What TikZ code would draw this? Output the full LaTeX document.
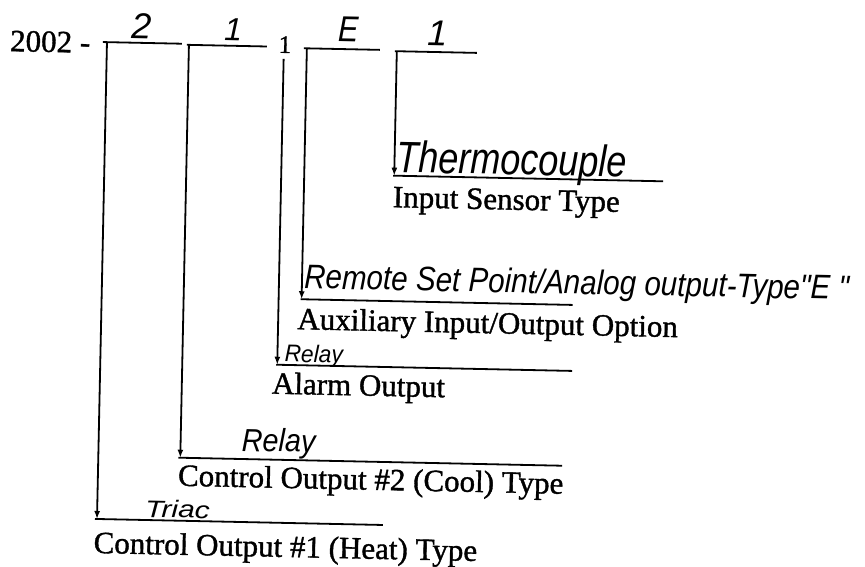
\documentclass[tikz,border=0pt]{standalone}
\usepackage{fontspec}
\setmainfont{Liberation Serif}[FakeBold=1.2]
\newfontfamily\handfont{Liberation Sans}
\usetikzlibrary{arrows.meta}
\newcommand\hw[3][0.8]{\scalebox{#1}[1]{\handfont\itshape\fontsize{#2}{#2}\selectfont #3}}
\begin{document}
\begin{tikzpicture}[x=1pt,y=-1pt,
  ln/.style={line width=1.8pt},
  arr/.style={line width=1.8pt,-{Latex[length=8pt,width=6pt]}},
  lbl/.style={anchor=base west, inner sep=0pt, font=\fontsize{31}{31}\selectfont},
  hwn/.style={anchor=base west, inner sep=0pt}]
\useasboundingbox (0,0) rectangle (865,567);
\begin{scope}[rotate around={-1.2:(432,283)}, transform shape]
  % model number
  \node[lbl] (model) at (5,60) {2002 -};
  \node[anchor=base, inner sep=0pt, font=\fontsize{25}{25}\selectfont] (p1) at (280,56) {1};
  \node[hwn, anchor=base] (h2) at (136,45) {\hw[1]{36}{2}};
  \node[hwn, anchor=base] (h1a) at (228,45) {\hw[1]{32}{1}};
  \node[hwn, anchor=base] (hE) at (343,44) {\hw[0.85]{36}{E}};
  \node[hwn, anchor=base] (h1b) at (433,46) {\hw[1]{36}{1}};
  % corner coordinates
  \coordinate (s1a) at (98,49);  \coordinate (s1b) at (177,49);
  \coordinate (s2a) at (182,50); \coordinate (s2b) at (262,50);
  \coordinate (s3a) at (299,51); \coordinate (s3b) at (375,51);
  \coordinate (s4a) at (390,52); \coordinate (s4b) at (472,52);
  \coordinate (t1) at (102,49);  \coordinate (b1) at (102,526);
  \coordinate (t2) at (184,50);  \coordinate (b2) at (184,463);
  \coordinate (t3) at (279,62);  \coordinate (b3) at (279,368);
  \coordinate (t4) at (302,51);  \coordinate (b4) at (302,302);
  \coordinate (t5) at (392,52);  \coordinate (b5) at (392,176.5);
  % underlines
  \coordinate (u5a) at (391,176.5); \coordinate (u5b) at (661,176.5);
  \coordinate (u4a) at (301,302);   \coordinate (u4b) at (573,302);
  \coordinate (u3a) at (278,368);   \coordinate (u3b) at (574,368);
  \coordinate (u2a) at (182,463);   \coordinate (u2b) at (566,463);
  \coordinate (u1a) at (100,526);   \coordinate (u1b) at (388,526);
  \foreach \i in {1,2,3,4}{\draw[ln] (s\i a) -- (s\i b);}
  \foreach \i in {1,2,3,4,5}{\draw[arr] (t\i) -- (b\i); \draw[ln] (u\i a) -- (u\i b);}
  % handwritten entries
  \node[hwn] (hth) at (394,173) {\hw[0.82]{44}{Thermocouple}};
  \node[hwn] (hrm) at (304,291) {\hw[0.87]{34}{Remote Set Point/Analog output-Type"E~"}};
  \node[hwn] (hra) at (286,365) {\hw[0.95]{24}{Relay}};
  \node[hwn] (hrc) at (245,455) {\hw[0.9]{32}{Relay}};
  \node[hwn] (htr) at (150,523) {\hw[1.25]{24}{Triac}};
  % printed labels
  \node[lbl] (l5) at (391,208) {Input Sensor Type};
  \node[lbl] (l4) at (298,332) {Auxiliary Input/Output Option};
  \node[lbl] (l3) at (274,397) {Alarm Output};
  \node[lbl] (l2) at (182,491) {Control Output \#2 (Cool) Type};
  \node[lbl] (l1) at (99,560) {Control Output \#1 (Heat) Type};
\end{scope}
\end{tikzpicture}
\end{document}
